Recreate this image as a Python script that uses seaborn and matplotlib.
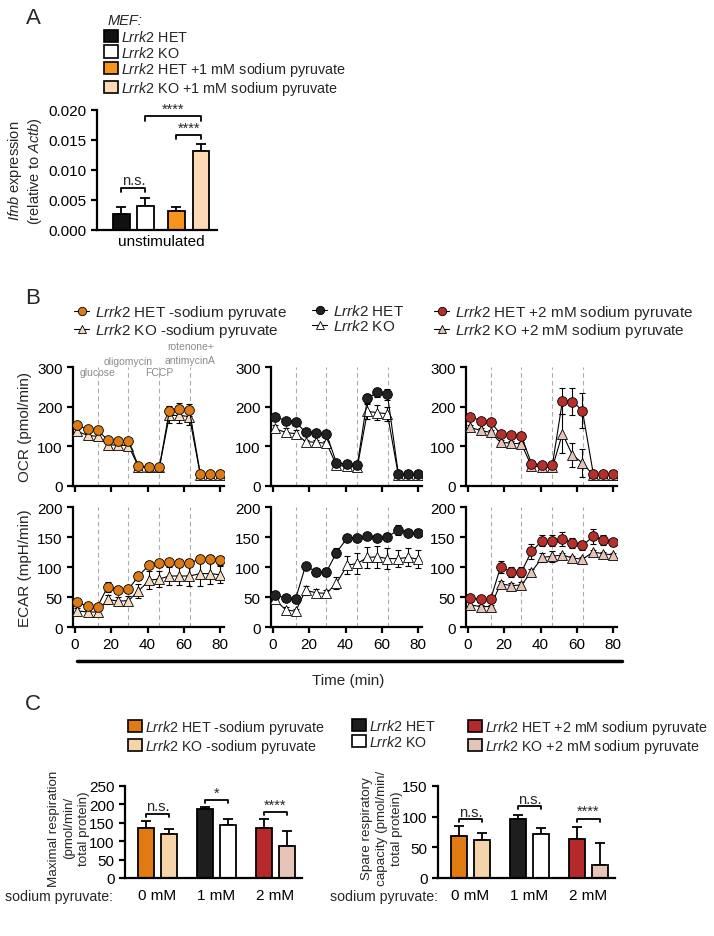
import numpy as np
import pandas as pd
import seaborn as sns
import matplotlib.pyplot as plt
from matplotlib.patches import Patch
from matplotlib.lines import Line2D

# ---------------- panel A: Ifnb expression ----------------
a_labels = [r"$\it{Lrrk2}$ HET", r"$\it{Lrrk2}$ KO",
            r"$\it{Lrrk2}$ HET +1 mM sodium pyruvate", r"$\it{Lrrk2}$ KO +1 mM sodium pyruvate"]
a_mean = [0.0027, 0.0040, 0.0031, 0.0132]
a_sem = [0.0012, 0.0014, 0.0008, 0.0011]
a_colors = ["#111111", "#ffffff", "#f7941d", "#fdd9b5"]

# ---------------- panel B: Seahorse time course ----------------
time_min = [1, 7, 12.5, 18, 24, 29.5, 35, 41, 46.5, 52, 57.5, 63, 69, 74.5, 80]
injections = [12.5, 29.5, 46.5, 63.5]

ocr_het_nopyr = [154, 143, 140, 117, 114, 113, 50, 49, 49, 190, 193, 191, 30, 30, 30]
ocr_het_nopyr_err = [5, 5, 5, 5, 5, 5, 3, 3, 3, 12, 15, 15, 3, 3, 3]
ocr_ko_nopyr = [138, 128, 125, 104, 103, 102, 48, 47, 47, 178, 178, 175, 28, 28, 28]
ocr_ko_nopyr_err = [5, 5, 6, 5, 5, 5, 3, 3, 3, 18, 20, 22, 3, 3, 3]
ecar_het_nopyr = [41, 35, 34, 67, 62, 63, 85, 104, 106, 108, 107, 107, 113, 113, 111]
ecar_het_nopyr_err = [6, 4, 4, 8, 6, 6, 6, 6, 6, 6, 6, 6, 6, 7, 7]
ecar_ko_nopyr = [27, 25, 25, 46, 43, 44, 60, 78, 80, 85, 85, 85, 89, 89, 87]
ecar_ko_nopyr_err = [4, 4, 4, 8, 7, 7, 12, 15, 14, 15, 15, 16, 20, 17, 14]

ocr_het = [175, 165, 162, 135, 133, 131, 58, 55, 54, 221, 236, 231, 30, 30, 31]
ocr_het_err = [5, 4, 4, 4, 4, 4, 5, 5, 5, 12, 12, 14, 4, 4, 4]
ocr_ko = [145, 135, 132, 112, 110, 108, 52, 50, 49, 188, 185, 182, 27, 27, 27]
ocr_ko_err = [10, 10, 10, 5, 5, 5, 5, 5, 5, 18, 18, 18, 4, 4, 4]
ecar_het = [54, 48, 47, 102, 92, 92, 124, 149, 148, 151, 149, 150, 162, 157, 157]
ecar_het_err = [4, 3, 3, 4, 7, 7, 8, 4, 4, 4, 4, 6, 8, 5, 6]
ecar_ko = [46, 29, 26, 61, 57, 56, 73, 103, 106, 116, 117, 114, 114, 116, 113]
ecar_ko_err = [6, 4, 4, 8, 6, 6, 10, 15, 17, 18, 18, 18, 14, 15, 15]

ocr_het_2mm = [175, 165, 162, 130, 128, 126, 56, 54, 54, 214, 213, 190, 30, 30, 31]
ocr_het_2mm_err = [5, 4, 4, 5, 5, 5, 6, 5, 5, 32, 35, 45, 5, 5, 5]
ocr_ko_2mm = [148, 140, 135, 110, 108, 106, 50, 48, 47, 132, 78, 58, 27, 27, 27]
ocr_ko_2mm_err = [5, 5, 5, 5, 5, 5, 4, 4, 4, 50, 30, 35, 5, 5, 5]
ecar_het_2mm = [49, 46, 46, 100, 92, 92, 126, 144, 144, 147, 140, 136, 151, 145, 141]
ecar_het_2mm_err = [5, 4, 4, 10, 8, 8, 12, 9, 9, 12, 9, 8, 12, 8, 6]
ecar_ko_2mm = [37, 34, 34, 72, 69, 70, 92, 116, 118, 120, 115, 113, 125, 122, 120]
ecar_ko_2mm_err = [4, 3, 3, 4, 4, 5, 5, 7, 9, 4, 4, 4, 4, 3, 3]

b_labels = [[r"$\it{Lrrk2}$ HET -sodium pyruvate", r"$\it{Lrrk2}$ KO -sodium pyruvate"],
            [r"$\it{Lrrk2}$ HET", r"$\it{Lrrk2}$ KO"],
            [r"$\it{Lrrk2}$ HET +2 mM sodium pyruvate", r"$\it{Lrrk2}$ KO +2 mM sodium pyruvate"]]

# ---------------- panel C: maximal / spare respiration ----------------
doses = ["0 mM", "1 mM", "2 mM"]
max_het = [137, 187, 137]
max_het_err = [17, 7, 24]
max_ko = [120, 144, 87]
max_ko_err = [13, 15, 41]
spare_het = [68, 97, 64]
spare_het_err = [17, 6, 19]
spare_ko = [62, 71, 21]
spare_ko_err = [11, 11, 36]
het_colors = ["#e07b12", "#1e1e1e", "#b5292b"]
ko_colors = ["#f6d4aa", "#ffffff", "#e6c5b8"]

# ------------------------------------------------------------------
sns.set_theme(style="ticks")
plt.rcParams["font.family"] = ["Liberation Sans", "DejaVu Sans"]
plt.rcParams["mathtext.fontset"] = "custom"
plt.rcParams["mathtext.rm"] = "Liberation Sans"
plt.rcParams["mathtext.it"] = "Liberation Sans:italic"
plt.rcParams["axes.linewidth"] = 1.6
plt.rcParams["xtick.major.width"] = 1.6
plt.rcParams["ytick.major.width"] = 1.6
plt.rcParams["xtick.major.size"] = 4
plt.rcParams["ytick.major.size"] = 4
plt.rcParams["xtick.color"] = "black"
plt.rcParams["ytick.color"] = "black"
plt.rcParams["axes.edgecolor"] = "black"

W, H = 714, 937
fig = plt.figure(figsize=(W / 100, H / 100), dpi=100)


def rect(x0, y0, x1, y1):
    return [x0 / W, 1 - y1 / H, (x1 - x0) / W, (y1 - y0) / H]


def bracket(ax, x0, x1, y, drop, text, dy, size=10.5):
    ax.plot([x0, x0, x1, x1], [y - drop, y, y, y - drop], color="black", lw=1.3, clip_on=False)
    ax.text((x0 + x1) / 2, y + dy, text, ha="center", va="bottom", fontsize=size)


def bar_panel(ax, pos, vals, errs, colors, width):
    df = pd.DataFrame({"pos": pos, "val": vals, "cond": [str(i) for i in range(len(vals))]})
    sns.barplot(data=df, x="pos", y="val", hue="cond", palette=colors, native_scale=True,
                dodge=False, width=width, edgecolor="black", linewidth=1.3,
                legend=False, ax=ax, saturation=1)
    ax.errorbar(pos, vals, yerr=[np.zeros(len(errs)), errs], fmt="none", ecolor="black",
                elinewidth=1.3, capsize=3.5, capthick=1.3, zorder=0)
    sns.despine(ax=ax)


# ---------------- A ----------------
fig.text(33 / W, 1 - 18 / H, "A", fontsize=16, va="center", ha="center")
axA = fig.add_axes(rect(97, 111, 217, 231))
a_pos = [0, 1, 2.29, 3.31]
bar_panel(axA, a_pos, a_mean, a_sem, a_colors, 0.7)
axA.set_xlim(-1.02, 3.98)
axA.set_ylim(0, 0.02)
axA.set_yticks(np.arange(0, 0.0201, 0.005), [f"{v:.3f}" for v in np.arange(0, 0.0201, 0.005)],
               fontsize=11)
axA.set_xticks([np.mean(a_pos)], ["unstimulated"], fontsize=11)
axA.tick_params(axis="x", length=0, pad=3)
axA.set_xlabel("")
axA.set_ylabel(r"$\it{Ifnb}$ expression" + "\n" + r"(relative to $\it{Actb}$)", fontsize=10.5,
               labelpad=3)
bracket(axA, a_pos[0], a_pos[1], 0.0070, 0.0007, "n.s.", 0.0002)
bracket(axA, a_pos[2], a_pos[3], 0.0159, 0.0007, "****", 0.0)
bracket(axA, a_pos[1], a_pos[3], 0.0190, 0.0008, "****", 0.0)

fig.text(108 / W, 1 - 21 / H, "MEF:", fontsize=10.5, style="italic", va="center")
a_handles = [Patch(facecolor=c, edgecolor="black", linewidth=1.2) for c in a_colors]
fig.legend(a_handles, a_labels, loc="upper left", bbox_to_anchor=(104 / W, 1 - 30 / H),
           frameon=False, fontsize=10.4, handlelength=0.95, handleheight=0.95,
           handletextpad=0.2, labelspacing=0.04, borderpad=0, borderaxespad=0)

# ---------------- B ----------------
fig.text(33 / W, 1 - 298 / H, "B", fontsize=16, va="center", ha="center")
b_sets = [
    (ocr_het_nopyr, ocr_het_nopyr_err, ocr_ko_nopyr, ocr_ko_nopyr_err,
     ecar_het_nopyr, ecar_het_nopyr_err, ecar_ko_nopyr, ecar_ko_nopyr_err, "#db7a16", "#f4dcc2"),
    (ocr_het, ocr_het_err, ocr_ko, ocr_ko_err,
     ecar_het, ecar_het_err, ecar_ko, ecar_ko_err, "#222222", "#ffffff"),
    (ocr_het_2mm, ocr_het_2mm_err, ocr_ko_2mm, ocr_ko_2mm_err,
     ecar_het_2mm, ecar_het_2mm_err, ecar_ko_2mm, ecar_ko_2mm_err, "#b72f2b", "#e4c4b9"),
]
col_x = [73, 271, 466]
leg_x = [74, 312, 434]


def seahorse(ax, het, het_err, ko, ko_err, het_color, ko_color):
    for t in injections:
        ax.axvline(t, color="#ababab", ls=(0, (4, 3)), lw=0.8, zorder=0)
    for vals, errs, marker, fc, ms in [(ko, ko_err, "^", ko_color, 7.5), (het, het_err, "o", het_color, 7)]:
        ax.errorbar(time_min, vals, yerr=errs, fmt="none", ecolor="black", elinewidth=0.8,
                    capsize=2.5, capthick=0.8, zorder=2)
        sns.lineplot(x=time_min, y=vals, ax=ax, color="black", lw=0.8, marker=marker,
                     markersize=ms, markerfacecolor=fc, markeredgecolor="black",
                     markeredgewidth=0.6, zorder=3)
    ax.set_xlim(-1, 82)
    ax.set_xticks(range(0, 81, 20))
    sns.despine(ax=ax)


for i, s in enumerate(b_sets):
    (o_h, o_he, o_k, o_ke, e_h, e_he, e_k, e_ke, hc, kc) = s
    axo = fig.add_axes(rect(col_x[i], 368, col_x[i] + 151, 487))
    seahorse(axo, o_h, o_he, o_k, o_ke, hc, kc)
    axo.set_ylim(0, 300)
    axo.set_yticks([0, 100, 200, 300])
    axo.set_xticklabels([])
    axo.tick_params(labelsize=11)
    axe = fig.add_axes(rect(col_x[i], 508, col_x[i] + 151, 628))
    seahorse(axe, e_h, e_he, e_k, e_ke, hc, kc)
    axe.set_ylim(0, 200)
    axe.set_yticks([0, 50, 100, 150, 200])
    axe.tick_params(labelsize=11)
    if i == 0:
        axo.set_ylabel("OCR (pmol/min)", fontsize=11, labelpad=4)
        axe.set_ylabel("ECAR (mpH/min)", fontsize=11, labelpad=4)
        grey = "#8c8c8c"
        axo.text(injections[0], 287, "glucose", color=grey, fontsize=7.5, ha="center", va="center")
        axo.text(injections[1], 316, "oligomycin", color=grey, fontsize=7.5, ha="center", va="center")
        axo.text(injections[2], 287, "FCCP", color=grey, fontsize=7.5, ha="center", va="center")
        axo.text(injections[3], 306, "rotenone+\nantimycinA", color=grey, fontsize=7.5,
                 ha="center", va="bottom", linespacing=1.4)
    h_het = Line2D([], [], color="black", lw=0.8, marker="o", markersize=6,
                   markerfacecolor=hc, markeredgecolor="black", markeredgewidth=0.6)
    h_ko = Line2D([], [], color="black", lw=0.8, marker="^", markersize=6,
                  markerfacecolor=kc, markeredgecolor="black", markeredgewidth=0.6)
    fig.legend([h_het, h_ko], b_labels[i], loc="upper left",
               bbox_to_anchor=(leg_x[i] / W, 1 - 304 / H), frameon=False, fontsize=11,
               handlelength=1.0, handletextpad=0.35, labelspacing=0.0, borderpad=0,
               borderaxespad=0)

fig.add_artist(Line2D([77 / W, 622 / W], [1 - 662 / H, 1 - 662 / H], color="black", lw=2.5))
fig.text(348 / W, 1 - 681 / H, "Time (min)", fontsize=11, ha="center", va="center")

# ---------------- C ----------------
fig.text(33 / W, 1 - 705 / H, "C", fontsize=16, va="center", ha="center")
c_leg_x = [128, 352, 468]
for j in range(3):
    hh = [Patch(facecolor=het_colors[j], edgecolor="black", linewidth=1.2),
          Patch(facecolor=ko_colors[j], edgecolor="black", linewidth=1.2)]
    fig.legend(hh, b_labels[j], loc="upper left", bbox_to_anchor=(c_leg_x[j] / W, 1 - 719 / H),
               frameon=False, fontsize=10.3, handlelength=0.95, handleheight=0.95,
               handletextpad=0.25, labelspacing=0.05, borderpad=0, borderaxespad=0)

c_pos = []
c_cols = []
for g in range(3):
    c_pos += [g - 0.2, g + 0.2]
    c_cols += [het_colors[g], ko_colors[g]]

panels_c = [
    (125, max_het, max_het_err, max_ko, max_ko_err, 250, 50,
     "Maximal respiration\n(pmol/min/\ntotal protein)",
     [(175, "n.s."), (212, "*"), (180, "****")], 5),
    (438, spare_het, spare_het_err, spare_ko, spare_ko_err, 150, 50,
     "Spare respiratory\ncapacity (pmol/min/\ntotal protein)",
     [(96, "n.s."), (117, "n.s."), (97, "****")], 330),
]
for (x0, het, het_e, ko, ko_e, ymax, step, ylab, sigs, lab_x) in panels_c:
    ax = fig.add_axes(rect(x0, 787, x0 + 177, 879))
    vals, errs = [], []
    for g in range(3):
        vals += [het[g], ko[g]]
        errs += [het_e[g], ko_e[g]]
    bar_panel(ax, c_pos, vals, errs, c_cols, 0.68)
    ax.set_xlim(-0.55, 2.45)
    ax.set_ylim(0, ymax)
    ax.set_yticks(range(0, ymax + 1, step))
    ax.set_xticks([0, 1, 2], doses)
    ax.tick_params(axis="x", length=0, pad=7)
    ax.tick_params(labelsize=11)
    ax.set_xlabel("")
    ax.set_ylabel(ylab, fontsize=9.6, linespacing=1.3)
    ax.yaxis.set_label_coords(-0.2, 0.55)
    for g, (yb, txt) in enumerate(sigs):
        bracket(ax, g - 0.2, g + 0.2, yb, ymax * 0.035, txt, ymax * 0.005)
    fig.text(lab_x / W, 1 - 897 / H, "sodium pyruvate:", fontsize=10.2, ha="left", va="center")

fig.savefig("out.png", dpi=100)
